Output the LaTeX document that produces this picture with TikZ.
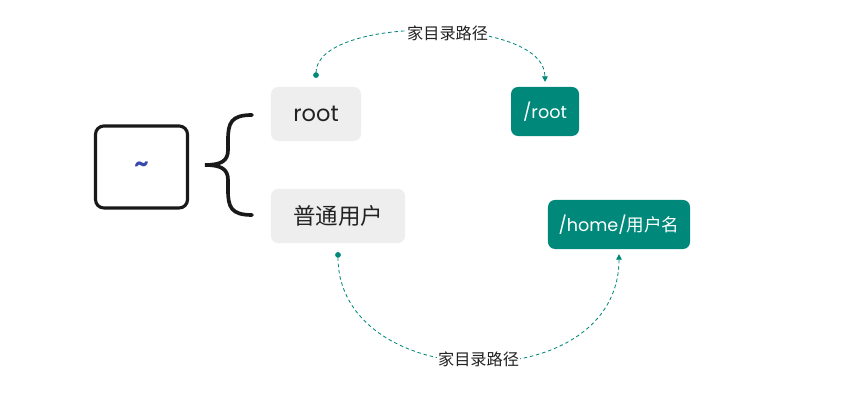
\documentclass[tikz,border=0pt]{standalone}
\usepackage{fontspec}
\setmainfont{Poppins}
\newfontfamily\cjk{Noto Sans CJK SC}
\usetikzlibrary{arrows.meta, positioning}
\definecolor{tealbox}{RGB}{0,137,123}
\definecolor{lightgraybox}{RGB}{238,238,238}
\definecolor{darktext}{RGB}{34,34,34}
\definecolor{tildeblue}{RGB}{57,73,171}

\begin{document}
\begin{tikzpicture}[x=0.025cm, y=-0.025cm,
    userbox/.style={fill=lightgraybox, rounded corners=5pt, inner sep=0pt, text=darktext, font=\fontsize{16}{18}\selectfont},
    dirbox/.style={fill=tealbox, rounded corners=5pt, inner sep=0pt, text=white, font=\fontsize{12.5}{14}\selectfont},
    pathlink/.style={tealbox, dashed, line width=0.6pt, dash pattern=on 2.5pt off 2pt, {Circle[length=4pt]}-{Triangle[length=4pt, width=4pt]}},
    linklabel/.style={fill=white, inner sep=1pt, text=darktext, font=\cjk\fontsize{11.5}{13}\selectfont}]
    \useasboundingbox (0,0) rectangle (853,411);

    % Home symbol
    \node[draw=black!90, line width=2.2pt, rounded corners=6pt, minimum width=2.3cm, minimum height=2.05cm,
          text=tildeblue, font=\bfseries\fontsize{16}{18}\selectfont] (tilde) at (141.5,167) {\textasciitilde};

    % Brace
    \draw[line width=2.6pt, black!90, line cap=round]
        (252,115) .. controls (231,115) and (228,123) .. (228,140) -- (228,150)
        .. controls (228,161) and (221,165) .. (205,165)
        .. controls (221,165) and (228,169) .. (228,180) -- (228,190)
        .. controls (228,207) and (231,215) .. (252,215);

    % Users
    \node[userbox, minimum width=2.25cm, minimum height=1.35cm] (root) at (316,114) {root};
    \node[userbox, minimum width=3.35cm, minimum height=1.35cm] (normal) at (338,216) {\cjk 普通用户};

    % Home directories
    \node[dirbox, minimum width=1.7cm, minimum height=1.225cm] (rootdir) at (545,111.5) {/root};
    \node[dirbox, minimum width=3.55cm, minimum height=1.225cm] (homedir) at (619,224.5) {/home/{\cjk 用户名}};

    % Links
    \draw[pathlink, shorten <=0.22cm, shorten >=0.12cm] (root.north) to[out=90, in=90, looseness=0.8]
        node[linklabel, pos=0.55] {家目录路径} (rootdir.north);
    \draw[pathlink, shorten <=0.22cm, shorten >=0.12cm] (normal.south) to[out=-90, in=-90, looseness=1.37]
        node[linklabel, pos=0.5] {家目录路径} (homedir.south);
\end{tikzpicture}
\end{document}
